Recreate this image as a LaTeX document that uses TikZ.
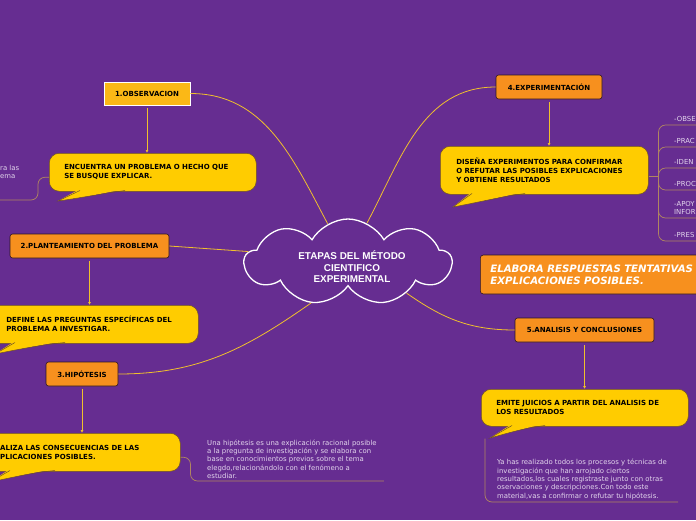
\documentclass[tikz,border=0pt]{standalone}
\usepackage{fontspec}
\setmainfont{DejaVu Sans}
\newfontfamily\cloudfont{Liberation Sans}
\usetikzlibrary{shapes.symbols,arrows.meta}

\definecolor{fondo}{RGB}{102,45,145}
\definecolor{naranja}{RGB}{247,144,30}
\definecolor{ambar}{RGB}{251,184,22}
\definecolor{amarillo}{RGB}{255,204,0}
\definecolor{borde}{RGB}{45,22,35}
\definecolor{bordeamarillo}{RGB}{110,80,40}
\definecolor{hilo}{RGB}{240,192,45}
\definecolor{hilonota}{RGB}{176,134,96}
\definecolor{textonota}{RGB}{226,212,236}

\begin{document}
\begin{tikzpicture}[x=1pt, y=-1pt,
  block/.style    = {draw=borde, line width=0.6pt, fill=naranja, rounded corners=2.5pt,
                     minimum height=24pt, inner sep=2pt,
                     font=\fontsize{7}{9}\selectfont\bfseries},
  bubble/.style   = {draw=bordeamarillo, line width=0.5pt, fill=amarillo,
                     rounded corners=10pt, anchor=north west, align=left,
                     font=\fontsize{7}{9}\selectfont\bfseries},
  tail/.style     = {fill=amarillo},
  tailedge/.style = {draw=bordeamarillo, line width=0.5pt},
  wire/.style     = {hilo, line width=0.8pt},
  link/.style     = {hilo, line width=0.7pt, -{Latex[length=3pt,width=3pt]}},
  noteline/.style = {hilonota, line width=0.7pt, rounded corners=7pt},
  note/.style     = {text=textonota, align=left, inner sep=2pt,
                     font=\fontsize{6.9}{8.4}\selectfont},
  item/.style     = {note, anchor=south west, text width=40pt, inner xsep=6pt,
                     inner ysep=3pt}
]
  \useasboundingbox (0,0) rectangle (696,520);
  \clip (0,0) rectangle (696,520);
  \fill[fondo] (0,0) rectangle (696,520);

  % Nube central
  \node[cloud, draw=white, line width=1.3pt, cloud puffs=9, cloud puff arc=120,
        aspect=2.4, minimum width=207pt, minimum height=86pt]
        (centro) at (348,262) {};
  \node[align=center, text=white, font=\cloudfont\fontsize{9.9}{11.5}\selectfont\bfseries]
        (titulo) at (352,267) {ETAPAS DEL MÉTODO\\CIENTIFICO\\EXPERIMENTAL};

  % Etapas
  \node[block, fill=ambar, draw=white, line width=0.8pt, rounded corners=0pt,
        minimum width=86pt, minimum height=23pt] (observ) at (147,93.5) {1.OBSERVACION};
  \node[block, minimum width=159pt] (plant)  at (89.5,246) {2.PLANTEAMIENTO DEL PROBLEMA};
  \node[block, minimum width=72pt]  (hipot)  at (82,374)   {3.HIPÓTESIS};
  \node[block, minimum width=106pt] (exper)  at (549,87)   {4.EXPERIMENTACIÓN};
  \node[block, minimum width=139pt] (analis) at (584.5,330) {5.ANALISIS Y CONCLUSIONES};
  \node[block, anchor=west, minimum height=39pt, text width=230pt, inner xsep=10pt,
        align=left, text=white, rounded corners=3pt,
        font=\fontsize{10.2}{12}\selectfont\bfseries\itshape]
        (elabora) at (480,274.5) {ELABORA RESPUESTAS TENTATIVAS\\EXPLICACIONES POSIBLES.};

  % Fios hacia la nube
  \draw[wire] (observ.east) to[out=0, in=118] (centro.118);
  \draw[wire] (plant.east) -- (centro.174);
  \draw[wire] (hipot.east) to[out=0, in=215] (centro.228);
  \draw[wire] (exper.west) to[out=180, in=62] (centro.64);
  \draw[wire] (analis.west) to[out=180, in=-35] (centro.-28);

  % Globos
  \node[bubble, inner xsep=15pt, text width=177pt, minimum height=38pt]
        (encuentra) at (49,153) {ENCUENTRA UN PROBLEMA O HECHO QUE\\SE BUSQUE EXPLICAR.};
  \fill[tail] (80,189) -- (58,201) .. controls (80,198) and (100,194) .. (125,189) -- cycle;
  \draw[tailedge] (80,190.5) -- (58,201) .. controls (80,198) and (100,194) .. (125,190.5);

  \node[bubble, inner xsep=26pt, text width=166pt, minimum height=38pt]
        (define) at (-20,305) {DEFINE LAS PREGUNTAS ESPECÍFICAS DEL\\PROBLEMA A INVESTIGAR.};
  \fill[tail] (15,341) -- (-5,354) .. controls (15,350) and (40,345) .. (65,341) -- cycle;
  \draw[tailedge] (15,342.5) -- (-5,354) .. controls (15,350) and (40,345) .. (65,342.5);

  \node[bubble, inner xsep=20pt, text width=160pt, minimum height=38pt]
        (consec) at (-20,433) {ALIZA LAS CONSECUENCIAS DE LAS\\PLICACIONES POSIBLES.};
  \fill[tail] (10,469) -- (-10,482) .. controls (10,478) and (30,473) .. (55,469) -- cycle;
  \draw[tailedge] (10,470.5) -- (-10,482) .. controls (10,478) and (30,473) .. (55,470.5);

  \node[bubble, inner xsep=16pt, text width=176pt, minimum height=48pt]
        (disena) at (440,146) {DISEÑA EXPERIMENTOS PARA CONFIRMAR\\O REFUTAR LAS POSIBLES EXPLICACIONES\\Y OBTIENE RESULTADOS};
  \fill[tail] (472,192) -- (453,207) .. controls (480,202) and (500,197) .. (525,192) -- cycle;
  \draw[tailedge] (472,193.5) -- (453,207) .. controls (480,202) and (500,197) .. (525,193.5);

  \node[bubble, inner xsep=15pt, text width=177pt, minimum height=37pt]
        (emite) at (481,389) {EMITE JUICIOS A PARTIR DEL ANALISIS DE\\LOS RESULTADOS};
  \fill[tail] (512,424) -- (490,438) .. controls (505,434) and (520,429) .. (545,424) -- cycle;
  \draw[tailedge] (512,425.5) -- (490,438) .. controls (505,434) and (520,429) .. (545,425.5);

  % Flechas etapa -> globo
  \draw[link] ([yshift=-3pt]observ.south) -- (observ.south |- encuentra.north);
  \draw[link] ([yshift=-3pt]plant.south)  -- (plant.south |- define.north);
  \draw[link] ([yshift=-3pt]hipot.south)  -- (hipot.south |- consec.north);
  \draw[link] ([yshift=-3pt]exper.south)  -- (exper.south |- disena.north);
  \draw[link] ([yshift=-3pt]analis.south) -- (analis.south |- emite.north);

  % Notas
  \node[note, anchor=north west, inner xsep=0pt] (obsnota) at (0,163) {ra las\\ema};
  \coordinate (obsfin) at (-5,200);
  \draw[noteline] ([yshift=-5pt]encuentra.west) -- ++(-11,0) |- (obsfin);

  \node[note, anchor=south west, inner xsep=7pt] (hipnota) at (200,481)
        {Una hipótesis es una explicación racional posible\\
         a la pregunta de investigación y se elabora con\\
         base en conocimientos previos sobre el tema\\
         elegdo,relacionándolo con el fenómeno a\\
         estudiar.};
  \draw[noteline] ([yshift=-5pt]consec.east) -- ++(10,0) |- (hipnota.south east);

  \node[note, anchor=south west, inner xsep=11pt] (analnota) at (486,502)
        {Ya has realizado todos los procesos y técnicas de\\
         investigación que han arrojado ciertos\\
         resultados,los cuales registraste junto con otras\\
         oservaciones y descripciones.Con todo este\\
         material,vas a confirmar o refutar tu hipótesis.};
  \draw[noteline] ([xshift=4pt,yshift=-12pt]emite.south west) |- (analnota.south east);

  % Lista de la experimentacion
  \node[item] (obse) at (668,125) {-OBSE};
  \node[item] (prac) at (668,147) {-PRAC};
  \node[item] (iden) at (668,168) {-IDEN};
  \node[item] (proc) at (668,190) {-PROC};
  \node[item] (apoy) at (668,218) {-APOY\\INFOR};
  \node[item] (pres) at (668,241) {-PRES};
  \coordinate (j4) at ([xshift=10pt,yshift=-6pt]disena.east);
  \draw[noteline] ([yshift=-6pt]disena.east) -- (j4);
  \draw[noteline] (j4) |- (obse.south east);
  \draw[noteline] (j4) |- (prac.south east);
  \draw[noteline] (j4) |- (iden.south east);
  \draw[noteline] (j4) |- (proc.south east);
  \draw[noteline] (j4) |- (apoy.south east);
  \draw[noteline] (j4) |- (pres.south east);
\end{tikzpicture}
\end{document}
